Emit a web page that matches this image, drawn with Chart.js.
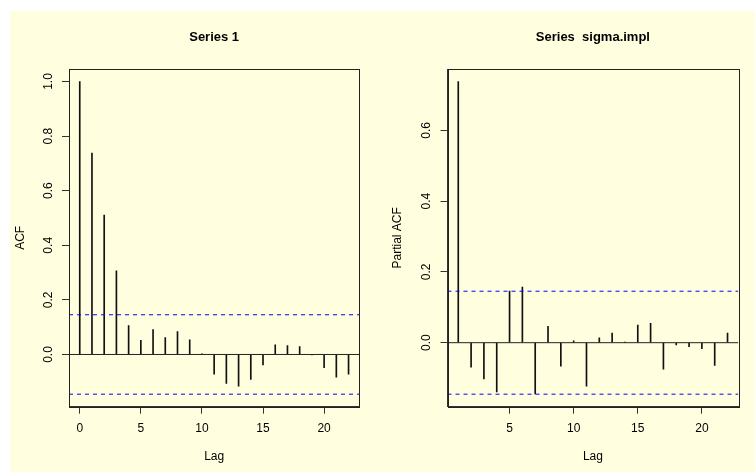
<!DOCTYPE html>
<html lang="en">
<head>
  <meta charset="UTF-8">
  <title>ACF / PACF</title>
  <script src="https://cdn.jsdelivr.net/npm/chart.js"></script>
  <style>
    html, body { margin:0; padding:0; width:755px; height:472px; overflow:hidden; background:#fff }
    #bg { position:absolute; left:10px; top:11px; right:0; bottom:0; background:#ffffe0 }
    canvas { position:absolute; top:0 }
    #acf { left:0 }
    #pacf { left:377px }
  </style>
</head>
<body>
  <div id="bg"></div>
  <canvas id="acf" width="378" height="472"></canvas>
  <canvas id="pacf" width="378" height="472"></canvas>

  <script>
    // values
    const acfLags=[0,1,2,3,4,5,6,7,8,9,10,11,12,13,14,15,16,17,18,19,20,21,22];
    const acfValues=[1.0,0.738,0.511,0.306,0.106,0.052,0.091,0.062,0.084,0.054,0.002,
                     -0.072,-0.106,-0.116,-0.091,-0.038,0.035,0.033,0.029,-0.002,-0.048,-0.083,-0.072];
    const pacfLags=[1,2,3,4,5,6,7,8,9,10,11,12,13,14,15,16,17,18,19,20,21,22];
    const pacfValues=[0.738,-0.069,-0.102,-0.139,0.146,0.157,-0.145,0.046,-0.066,0.005,-0.123,
                      0.014,0.027,0.001,0.050,0.055,-0.075,-0.006,-0.011,-0.017,-0.064,0.027];
    const confLimit=0.1455;
    const acfXTicks=[0,5,10,15,20];
    const acfYTicks=[0,0.2,0.4,0.6,0.8,1.0];
    const pacfXTicks=[5,10,15,20];
    const pacfYTicks=[0,0.2,0.4,0.6];

    const FONT="'Liberation Sans', Arial, Helvetica, sans-serif";

    // R style: data range widened by 4%
    function extRange(lo,hi){ const d=(hi-lo)*0.04; return [lo-d,hi+d]; }

    // box round the plot region
    const boxPlugin={
      id:"box",
      afterDatasetsDraw(chart){
        const a=chart.chartArea, ctx=chart.ctx;
        ctx.save();
        ctx.strokeStyle="#222"; ctx.lineWidth=1;
        ctx.strokeRect(Math.round(a.left)+0.5,Math.round(a.top)+0.5,
                       Math.round(a.right-a.left),Math.round(a.bottom-a.top));
        ctx.restore();
      }
    };

    function makePlot(id,lags,vals,xTicks,yTicks,title,yTitle,yWidth,padRight){
      const xr=extRange(lags[0],lags[lags.length-1]);
      const yr=extRange(Math.min(...vals,-confLimit),Math.max(...vals,confLimit));
      const hline=(y,color,dash)=>({
        type:"line",
        data:[{x:xr[0],y},{x:xr[1],y}],
        borderColor:color, borderWidth:1, borderDash:dash,
        pointRadius:0, tension:0
      });
      new Chart(document.getElementById(id),{
        type:"bar",
        data:{datasets:[
          hline(0,"#222",[]),
          hline(confLimit,"#0000ff",[4,4]),
          hline(-confLimit,"#0000ff",[4,4]),
          {
            type:"bar",
            data:lags.map((l,i)=>({x:l,y:vals[i]})),
            backgroundColor:"#111", borderWidth:0, barThickness:1
          }
        ]},
        options:{
          responsive:false, animation:false,
          layout:{padding:{left:0,top:0,bottom:0,right:padRight}},
          plugins:{
            legend:{display:false}, tooltip:{enabled:false},
            title:{display:true, text:title, fullSize:false, color:"#000",
                   font:{family:FONT,size:13,weight:"bold"}, padding:{top:29.2,bottom:24.2}}
          },
          scales:{
            x:{
              type:"linear", min:xr[0], max:xr[1], offset:false,
              afterBuildTicks:s=>{ s.ticks=xTicks.map(v=>({value:v})); },
              afterFit:s=>{ s.height=65.3; },
              grid:{offset:false, drawOnChartArea:false, drawTicks:true, tickLength:7, color:"#333"},
              border:{display:true, color:"#333"},
              ticks:{color:"#000", font:{family:FONT,size:12}, padding:8, maxRotation:0, minRotation:0},
              title:{display:true, text:"Lag", color:"#000", font:{family:FONT,size:12}, padding:{bottom:7.8}}
            },
            y:{
              min:yr[0], max:yr[1],
              afterBuildTicks:s=>{ s.ticks=yTicks.map(v=>({value:v})); },
              afterFit:s=>{ s.width=yWidth; },
              grid:{offset:false, drawOnChartArea:false, drawTicks:true, tickLength:7, color:"#333"},
              border:{display:true, color:"#333"},
              ticks:{color:"#000", font:{family:FONT,size:12}, padding:5, minRotation:90, maxRotation:90,
                     crossAlign:"center", callback:v=>v.toFixed(1)},
              title:{display:true, text:yTitle, color:"#000", font:{family:FONT,size:12}, padding:{top:13.8}}
            }
          }
        },
        plugins:[boxPlugin]
      });
    }

    makePlot("acf",acfLags,acfValues,acfXTicks,acfYTicks,"Series 1","ACF",69,18.7);
    makePlot("pacf",pacfLags,pacfValues,pacfXTicks,pacfYTicks,"Series  sigma.impl","Partial ACF",70.5,16.7);
  </script>
</body>
</html>
